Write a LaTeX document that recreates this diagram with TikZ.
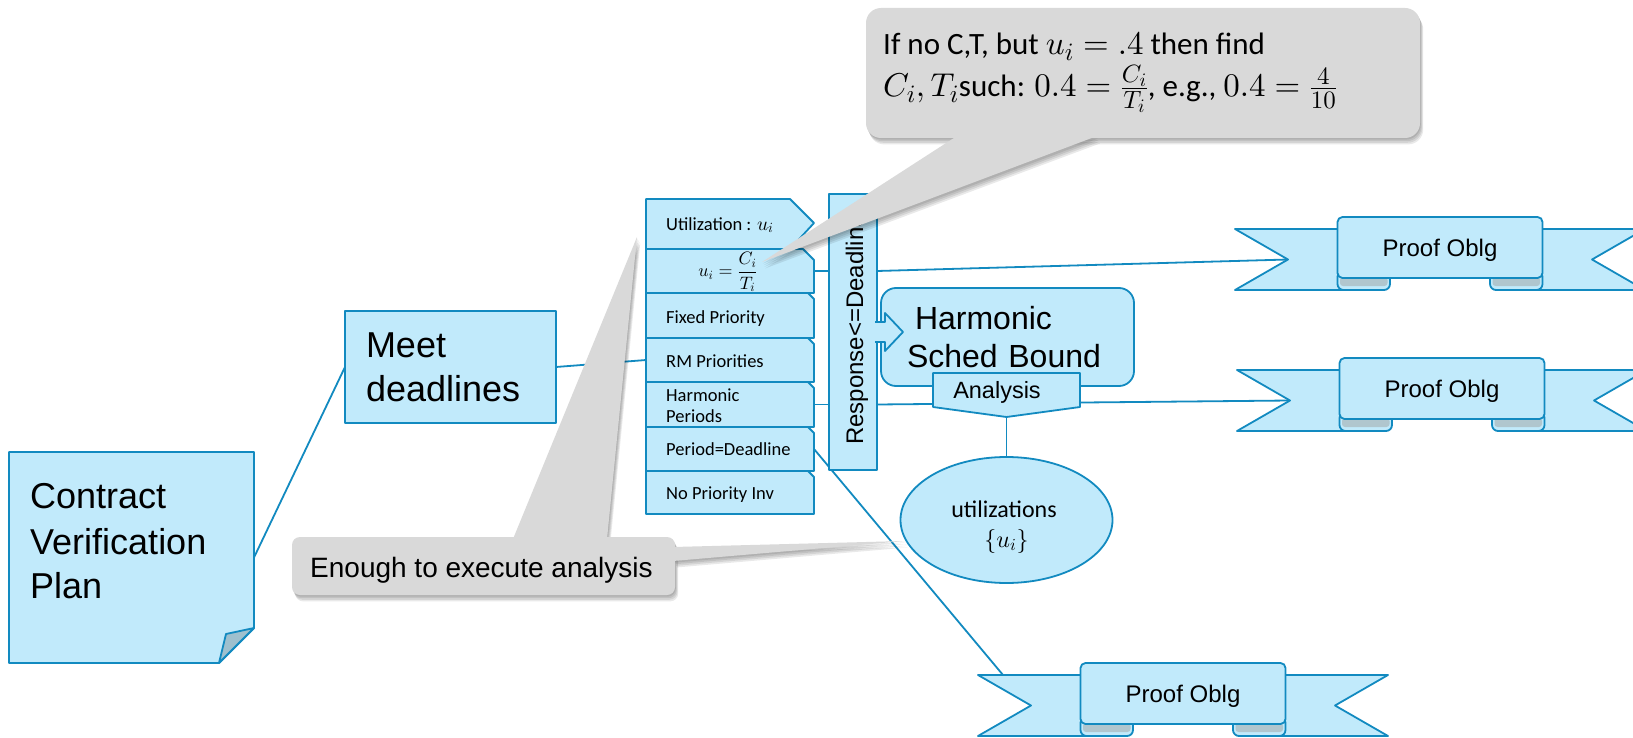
\documentclass[tikz,border=0pt]{standalone}
\usepackage[no-math]{fontspec}
\setmainfont{Liberation Sans}
\newfontfamily\calfont{Carlito}
\usetikzlibrary{shapes.geometric,calc}

% scalable Computer Modern math at any size
\DeclareFontShape{OML}{cmm}{m}{it}{<->cmmi10}{}
\DeclareFontShape{OMS}{cmsy}{m}{n}{<->cmsy10}{}
\DeclareFontShape{OT1}{cmr}{m}{n}{<->cmr10}{}
\DeclareFontShape{OMX}{cmex}{m}{n}{<->cmex10}{}
\DeclareMathSizes{31}{33}{25}{19}
\DeclareMathSizes{18.5}{19.5}{14}{11}

\definecolor{boxfill}{RGB}{193,234,251}
\definecolor{boxline}{RGB}{18,138,192}
\definecolor{curlfill}{RGB}{176,198,206}
\definecolor{flapfill}{RGB}{158,192,206}
\definecolor{notefill}{RGB}{217,217,217}

\pgfdeclarelayer{bg}
\pgfdeclarelayer{wires}
\pgfsetlayers{bg,wires,main}

\tikzset{
  bx/.style={fill=boxfill, draw=boxline, line width=1.8pt, line join=round},
  link/.style={draw=boxline, line width=1.8pt},
  note/.style={fill=notefill},
  noteshade/.style={fill=black, opacity=0.085},
  lbl/.style={inner sep=0pt, text=black},
  hole/.style={inner sep=0pt, outer sep=0pt},
  rowtxt/.style={lbl, anchor=base west, font=\calfont\fontsize{18.5}{21}\selectfont},
  big/.style={lbl, anchor=base west, font=\fontsize{36}{44}\selectfont},
  tiptxt/.style={lbl, anchor=base west, font=\calfont\fontsize{31}{36}\selectfont},
}

% one entry of the requirement list: name, top, bottom, snip size
\newcommand{\listrow}[4]{%
  \path[bx] (646,#2) -- ({814-#4},#2) -- (814,{#2+#4}) -- (814,#3) -- (646,#3) -- cycle;
  \node[hole, minimum width=168, minimum height={#3-#2}] (#1) at (730,{(#2+#3)/2}) {};
}

% ribbon banner: name, centre x, top of the front face
\newcommand{\banner}[3]{%
  % tails
  \path[bx] ({#2-205},{#3+12}) -- ({#2-60},{#3+12}) -- ({#2-60},{#3+73}) -- ({#2-205},{#3+73}) -- ({#2-152},{#3+42.5}) -- cycle;
  \path[bx] ({#2+205},{#3+12}) -- ({#2+60},{#3+12}) -- ({#2+60},{#3+73}) -- ({#2+205},{#3+73}) -- ({#2+152},{#3+42.5}) -- cycle;
  % rolled ends under the face
  \path[bx, rounded corners=6] ({#2-102.5},{#3+54}) rectangle ({#2-50},{#3+73});
  \path[bx, rounded corners=6] ({#2+50},{#3+54}) rectangle ({#2+102.5},{#3+73});
  \fill[curlfill, rounded corners=3] ({#2-100},{#3+60}) rectangle ({#2-52.5},{#3+69});
  \fill[curlfill, rounded corners=3] ({#2+52.5},{#3+60}) rectangle ({#2+100},{#3+69});
  % front face
  \path[bx, rounded corners=5] ({#2-102.5},{#3}) rectangle ({#2+102.5},{#3+61});
  \node[lbl, anchor=base, font=\fontsize{24}{28}\selectfont] (#1) at (#2,{#3+39}) {Proof Oblg};
  \coordinate (#1-in) at ({#2-152},{#3+42.5});
}

\begin{document}
\begin{tikzpicture}[x=1pt,y=-1pt]
\useasboundingbox (0,0) rectangle (1633,738);
\begin{pgfonlayer}{bg}
  \fill[white] (0,0) rectangle (1633,738);
\end{pgfonlayer}

% contract note with folded corner
\node[hole, minimum width=245, minimum height=211] (plan) at (131.5,557.5) {};
\path[bx] (plan.north west) -- (plan.north east) -- ($(plan.south east)+(0,-35)$) -- ($(plan.south east)+(-35,0)$) -- (plan.south west) -- cycle;
\path[bx, fill=flapfill] ($(plan.south east)+(0,-35)$) -- ($(plan.south east)+(-28,-29)$) -- ($(plan.south east)+(-35,0)$) -- cycle;
\node[big] (plan1) at (30,508) {Contract};
\node[big] (plan2) at (30,554) {Verification};
\node[big] (plan3) at (30,598) {Plan};

% goal
\node[bx, hole, minimum width=211, minimum height=112, text width=169, align=left,
      font=\fontsize{36}{44}\selectfont] (meet) at (450.5,367) {Meet\\deadlines};

% requirement list
\path[bx] (646,199) -- (790,199) -- (814,223) -- (790,249) -- (646,249) -- cycle;
\node[hole, minimum width=168, minimum height=50] (urow) at (730,224) {};
\listrow{ui}{249}{293}{11}
\listrow{fixed}{293}{338}{6}
\listrow{rm}{338}{382}{6}
\listrow{harmp}{382}{427}{6}
\listrow{per}{427}{471}{6}
\listrow{nopi}{471}{514}{6}
\node[rowtxt] (urowtxt) at (666,230) {Utilization : $u_i$};
\node[lbl, font=\fontsize{18}{20}\selectfont] (uitxt) at (728,272) {$\displaystyle u_i=\frac{C_i}{T_i}$};
\node[rowtxt] (fixedtxt) at (666,323) {Fixed Priority};
\node[rowtxt] (rmtxt) at (666,367) {RM Priorities};
\node[rowtxt] (harmptxt1) at (666,401) {Harmonic};
\node[rowtxt] (harmptxt2) at (666,422) {Periods};
\node[rowtxt] (pertxt) at (666,455) {Period=Deadline};
\node[rowtxt] (nopitxt) at (666,499) {No Priority Inv};

% response bar
\node[bx, hole, minimum width=48, minimum height=276] (resp) at (853,332) {};
\node[lbl, rotate=90, anchor=base west, font=\fontsize{24}{28}\selectfont] (resptxt) at (863,445) {Response<=Deadline};

% analysis block
\node[bx, hole, rounded corners=15, minimum width=253, minimum height=98, text width=201, align=left,
      font=\fontsize{32}{38}\selectfont] (harm) at (1007.5,337) {\hspace*{8pt}Harmonic\\Sched Bound};
\path[bx] (875,322) -- (885,322) -- (885,313) -- (903,332) -- (885,351) -- (885,342) -- (875,342);
\path[bx] (933,373) -- (1080,373) -- (1080,407) -- (1006.5,417) -- (933,407) -- cycle;
\coordinate (analtip) at (1006.5,417);
\node[lbl, anchor=base, font=\fontsize{23.5}{28}\selectfont] (anal) at (997,398) {Analysis};

\node[bx, hole, ellipse, minimum width=212, minimum height=126] (util) at (1006.5,520) {};
\node[lbl, anchor=base, font=\calfont\fontsize{24}{28}\selectfont] (util1) at (1004,517) {utilizations};
\node[lbl, anchor=base, font=\calfont\fontsize{24}{28}\selectfont] (util2) at (1006.5,547) {$\{u_i\}$};

% proof obligations
\banner{pob1}{1440}{217}
\banner{pob2}{1442}{358}
\banner{pob3}{1183}{663}
\coordinate (pob3-hit) at (1003,675);

% connectors
\begin{pgfonlayer}{wires}
  \draw[link] (plan.east) -- (meet.west);
  \draw[link] (meet.east) -- (rm.west);
  \draw[link] (ui.east) -- (ui.east -| resp.west);
  \draw[link] (harmp.east) -- (harmp.east -| resp.west);
  \draw[link] (ui.east -| resp.east) -- (pob1-in);
  \draw[link] (harmp.east -| resp.east) -- (pob2-in);
  \draw[link] (per.east) -- (pob3-hit);
  \draw[link] (analtip) -- (util.north);
\end{pgfonlayer}

% soft shadows of the comment bubbles
\foreach \sh in {1,...,4} {
  \begin{scope}[shift={({0.8*\sh},{1.6*\sh})}]
    \fill[noteshade, rounded corners=15] (866,8) rectangle (1420,138);
    \fill[noteshade] (957,137) -- (1097,137) -- (762,262) -- cycle;
    \fill[noteshade, rounded corners=8] (292,537) rectangle (675,595);
    \fill[noteshade] (513,538) -- (607,538) -- (637,237) -- cycle;
    \fill[noteshade] (674,547) -- (674,561) -- (905,541) -- cycle;
  \end{scope}
}

% comment bubbles
\fill[note, rounded corners=15] (866,8) rectangle (1420,138);
\fill[note] (957,136) -- (1097,136) -- (762,262) -- cycle;
\node[tiptxt] (tip1) at (883,55) {If no C,T, but $u_i = .4$ then find};
\node[tiptxt] (tip2) at (883,97) {$C_i, T_i$such: $0.4 = \frac{C_i}{T_i}$, e.g., $0.4 = \frac{4}{10}$};

\fill[note, rounded corners=8] (292,537) rectangle (675,595);
\fill[note] (513,539) -- (607,539) -- (637,237) -- cycle;
\fill[note] (673,547) -- (673,561) -- (905,541) -- cycle;
\node[lbl, anchor=base west, font=\fontsize{28}{32}\selectfont] (enough) at (310,577) {Enough to execute analysis};
\end{tikzpicture}
\end{document}
